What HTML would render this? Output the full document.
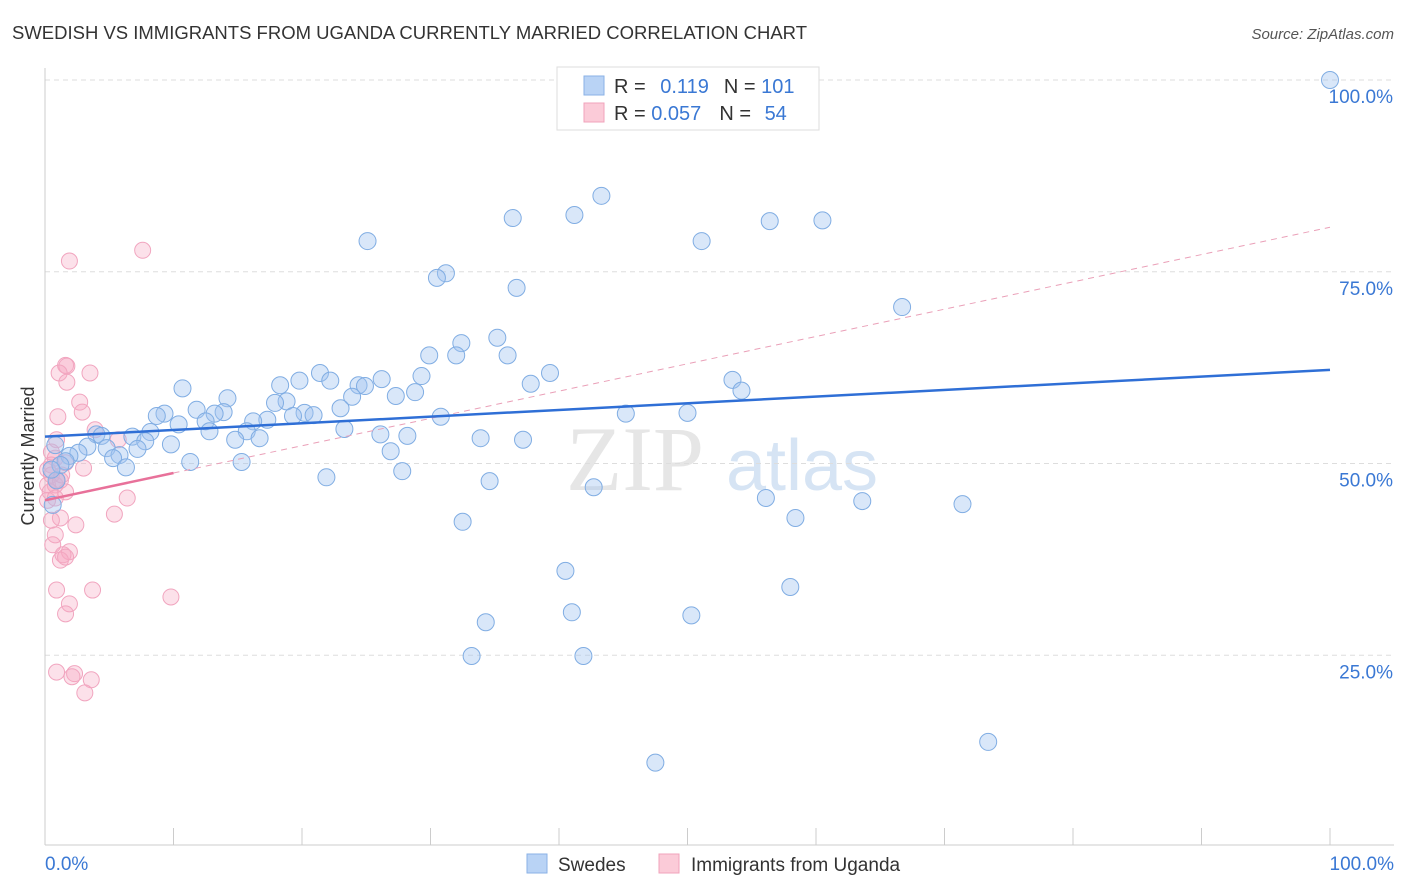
<!DOCTYPE html>
<html><head><meta charset="utf-8"><style>
body{margin:0;background:#fff;font-family:"Liberation Sans",sans-serif;}
svg{display:block}
</style></head><body>
<svg id="chart" width="1406" height="892">
<text x="12" y="39" font-size="18" fill="#333" textLength="795" lengthAdjust="spacingAndGlyphs">SWEDISH VS IMMIGRANTS FROM UGANDA CURRENTLY MARRIED CORRELATION CHART</text>
<text x="1394" y="39" font-size="15" fill="#555" font-style="italic" text-anchor="end">Source: ZipAtlas.com</text>
<text x="34" y="456" font-size="18" fill="#333" text-anchor="middle" transform="rotate(-90 34 456)">Currently Married</text>
<g>
<text x="635" y="490" font-size="92" fill="#e6e6e6" font-family="Liberation Serif,serif" text-anchor="middle">ZIP</text>
<text x="802" y="490" font-size="72" fill="#d6e4f4" text-anchor="middle">atlas</text>
</g>
<g id="grid"></g><g id="axes"></g><g id="marks"></g>
<g>
<rect x="557" y="67" width="262" height="63" fill="#fff" stroke="#ddd"/>
<rect x="584" y="76" width="20" height="19" fill="#b9d3f5" stroke="#8ab2e6"/>
<rect x="584" y="103" width="20" height="19" fill="#fbcbd8" stroke="#f0a3bb"/>
<text x="614" y="93" font-size="20" fill="#333">R = <tspan fill="#3a78d4" dx="9">0.119</tspan><tspan fill="#333" dx="15">N = </tspan><tspan fill="#3a78d4">101</tspan></text>
<text x="614" y="120" font-size="20" fill="#333">R = <tspan fill="#3a78d4">0.057</tspan><tspan fill="#333" dx="18">N = </tspan><tspan fill="#3a78d4" dx="8">54</tspan></text>
</g>
<g>
<rect x="527" y="854" width="20" height="19" fill="#b9d3f5" stroke="#8ab2e6"/>
<text x="558" y="871" font-size="19" fill="#333">Swedes</text>
<rect x="659" y="854" width="20" height="19" fill="#fbcbd8" stroke="#f0a3bb"/>
<text x="691" y="871" font-size="19" fill="#333">Immigrants from Uganda</text>
</g>
</svg>
<script>
const yTicks=[25,50,75,100];
const yTickLabels=["25.0%","50.0%","75.0%","100.0%"];
const xTickLabels=["0.0%","100.0%"];
const blueX=[100,46.7,43.3,41.2,36.4,56.4,60.5,25.1,51.1,31.2,30.5,36.7,66.7,35.2,32.4,29.9,36.0,32.0,21.4,39.3,53.5,29.3,26.2,19.8,22.2,18.3,24.4,24.9,37.8,54.2,10.7,14.2,28.8,27.3,18.8,23.9,17.9,23.0,11.8,9.3,8.7,13.9,13.2,20.2,20.9,19.3,17.3,16.2,30.8,45.2,50.0,12.5,10.4,23.3,12.8,8.2,15.7,26.1,16.7,14.8,28.2,33.9,37.2,6.8,4.0,4.4,7.8,9.8,4.8,3.3,26.9,2.6,1.9,5.8,5.3,7.2,15.3,11.3,1.6,6.3,27.8,21.9,34.6,42.7,56.1,63.6,71.4,0.6,58.4,32.5,0.9,40.5,41.0,50.3,58.0,34.3,33.2,41.9,73.4,47.5,1.2,0.5,0.8];
const blueY=[100,100,84.9,82.4,82.0,81.6,81.7,79.0,79.0,74.8,74.2,72.9,70.4,66.4,65.7,64.1,64.1,64.1,61.8,61.8,60.9,61.4,61.0,60.8,60.8,60.2,60.2,60.1,60.4,59.5,59.8,58.5,59.3,58.8,58.1,58.7,57.9,57.2,57.0,56.5,56.2,56.7,56.5,56.6,56.3,56.2,55.7,55.5,56.1,56.5,56.6,55.5,55.1,54.5,54.2,54.1,54.2,53.8,53.3,53.1,53.6,53.3,53.1,53.5,53.8,53.6,52.9,52.5,52.0,52.2,51.6,51.4,51.0,51.1,50.7,51.9,50.2,50.2,50.3,49.5,49.0,48.2,47.7,46.9,45.5,45.1,44.7,44.6,42.9,42.4,47.8,36.0,30.6,30.2,33.9,29.3,24.9,24.9,13.7,11.0,49.8,49.2,52.4];
const pinkX=[7.6,1.9,1.6,1.7,3.5,1.1,1.7,2.7,2.9,1.0,3.9,5.7,0.9,0.5,0.8,1.6,0.5,3.0,0.5,0.9,0.2,0.8,1.2,1.6,6.4,0.2,5.4,1.2,2.4,0.5,0.8,0.6,1.9,1.4,1.2,1.6,0.9,1.9,1.6,9.8,3.7,0.9,2.3,2.1,3.6,3.1,0.4,0.8,1.3,0.2];
const pinkY=[77.8,76.4,62.8,62.7,61.8,61.8,60.6,58.0,56.7,56.1,54.4,53.1,53.1,51.5,50.7,50.1,49.8,49.4,48.5,47.8,47.2,47.2,47.8,46.3,45.5,45.2,43.4,42.9,42.0,42.6,40.7,39.4,38.5,38.1,37.4,37.8,33.5,31.7,30.4,32.6,33.5,22.8,22.6,22.2,21.8,20.1,46.3,45.5,48.5,49.2];
const blueTrend=[53.5,62.2];
const pinkTrend=[45.2,80.8];
const pinkSolidEnd=10;

const NS="http://www.w3.org/2000/svg";
const X=v=>45+v*12.85;
const Y=v=>847-v*7.67;
function mk(tag,attrs,parent){const e=document.createElementNS(NS,tag);for(const k in attrs)e.setAttribute(k,attrs[k]);parent.appendChild(e);return e;}
const grid=document.getElementById('grid'),axes=document.getElementById('axes'),marks=document.getElementById('marks');
yTicks.forEach((t,i)=>{
 const l=mk('line',{x1:45,x2:1394,y1:Y(t),y2:Y(t),stroke:'#ddd','stroke-dasharray':'5,4'},grid);
 
 
 const tx=mk('text',{x:1393,y:Y(t)+23,'font-size':19,fill:'#3a78d4','text-anchor':'end'},axes);
 tx.textContent=yTickLabels[i];
 
 
});
const ax=mk('line',{x1:45,x2:1394,y1:845,y2:845,stroke:'#ccc'},axes);


const ay=mk('line',{x1:45,x2:45,y1:68,y2:845,stroke:'#ccc'},axes);


for(let i=0;i<=10;i++){
 const t=mk('line',{x1:X(i*10),x2:X(i*10),y1:828,y2:845,stroke:'#ccc'},axes);
 
 
}
[[0,'start',45],[100,'end',1394]].forEach((d,i)=>{
 const t=mk('text',{x:d[2],y:870,'font-size':19,fill:'#3a78d4','text-anchor':d[1]},axes);
 t.textContent=xTickLabels[i];
 
 
});
pinkX.forEach((x,i)=>{
 const c=mk('circle',{cx:X(x),cy:Y(pinkY[i]),r:8,fill:'rgba(246,170,196,0.35)',stroke:'#f1a5bf','stroke-width':1},marks);
 
 
});
blueX.forEach((x,i)=>{
 const c=mk('circle',{cx:X(x),cy:Y(blueY[i]),r:8.5,fill:'rgba(160,196,240,0.4)',stroke:'#80ade3','stroke-width':1},marks);
 
 
});
const pAt=v=>pinkTrend[0]+(pinkTrend[1]-pinkTrend[0])*v/100;
const pd=mk('line',{x1:X(pinkSolidEnd),y1:Y(pAt(pinkSolidEnd)),x2:X(100),y2:Y(pinkTrend[1]),stroke:'#eaa0b8','stroke-width':1,'stroke-dasharray':'6,5'},marks);


const ps=mk('line',{x1:X(0),y1:Y(pinkTrend[0]),x2:X(pinkSolidEnd),y2:Y(pAt(pinkSolidEnd)),stroke:'#e8719a','stroke-width':2.5},marks);


const bl=mk('line',{x1:X(0),y1:Y(blueTrend[0]),x2:X(100),y2:Y(blueTrend[1]),stroke:'#2f6fd6','stroke-width':2.5},marks);


</script>
</body></html>
